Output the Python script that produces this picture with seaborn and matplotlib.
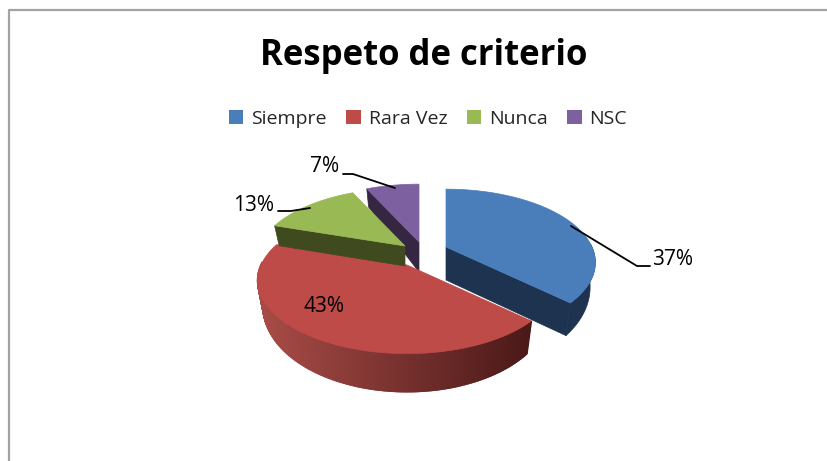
import numpy as np
import matplotlib.pyplot as plt
import matplotlib.colors as mcolors
from matplotlib.patches import Patch
import seaborn as sns

categories = ['Siempre', 'Rara Vez', 'Nunca', 'NSC']
values = [37, 43, 13, 7]
labels = ['37%', '43%', '13%', '7%']

top_colors = ['#4a7ebb', '#be4b48', '#98b954', '#7d60a0']
wall_colors = ['#1e3350', '#a94c47', '#3f4a1f', '#352641']
wall_dark = '#4a1918'

# pie look: perspective ellipse and where each exploded slice sits on the page
RX, RY, PERSP = 146, 70, 0.21
BOTTOM_INSET = 0.965
offsets = [(446, 247), (407, 265), (405, 246), (419, 242)]
apex_depth = [33, 33, 20, 30]

sns.set_theme(style='white')
plt.rcParams['font.family'] = ['Open Sans', 'DejaVu Sans']

fig = plt.figure(figsize=(8.28, 4.61), dpi=100)
ax = fig.add_axes([0, 0, 1, 1])
ax.set_xlim(0, 828)
ax.set_ylim(461, 0)
ax.axis('off')


def rim(angle, off):
    a = np.radians(angle)
    den = 1 + PERSP * np.sin(a)
    return off[0] + RX * np.cos(a) / den, off[1] - RY * np.sin(a) / den


def depth(angle):
    s = np.sin(np.radians(angle))
    return np.where(s < 0, 21 - 17 * s, 21 - 3 * s)


# slice angles, clockwise from 12 o'clock
shares = np.array(values) / sum(values) * 360
ends = 90 - np.cumsum(shares)
starts = ends + shares


def radial_wall(i, angle):
    x, y = rim(angle, offsets[i])
    px, py = offsets[i]
    xb = px + (x - px) * BOTTOM_INSET
    ax.fill([px, x, xb, px], [py, y, y + depth(angle), py + apex_depth[i]],
            color=wall_colors[i], lw=0.5)


def top(i):
    ang = np.linspace(starts[i], ends[i], 120)
    x, y = rim(ang, offsets[i])
    ax.fill(np.r_[offsets[i][0], x], np.r_[offsets[i][1], y],
            color=top_colors[i], lw=0.5)


def outer_wall(i, gradient=False):
    ang = np.linspace(ends[i], starts[i], 300)
    ang = ang[np.sin(np.radians(ang)) < 0.05]
    x, y = rim(ang, offsets[i])
    d = depth(ang)
    xb = offsets[i][0] + (x - offsets[i][0]) * BOTTOM_INSET
    if not gradient:
        ax.fill(np.r_[x, xb[::-1]], np.r_[y, (y + d)[::-1]],
                color=wall_colors[i], lw=0.5)
        return
    c0 = np.array(mcolors.to_rgb(wall_colors[i]))
    c1 = np.array(mcolors.to_rgb(wall_dark))
    for j in range(len(ang) - 1):
        t = (x[j] - x.min()) / (x.max() - x.min())
        col = c0 + (c1 - c0) * t
        ax.fill([x[j], x[j + 1], xb[j + 1], xb[j]],
                [y[j], y[j + 1], y[j + 1] + d[j + 1], y[j] + d[j]],
                color=col, lw=1.2)


# back to front
radial_wall(3, starts[3])
top(3)
outer_wall(1, gradient=True)
top(1)
radial_wall(2, starts[2])
top(2)
radial_wall(0, ends[0])
outer_wall(0)
top(0)

# leaders
ax.plot([571, 637, 650], [226, 266, 266], color='black', lw=1.3)
ax.plot([278, 291, 310], [211, 211, 208], color='black', lw=1.3)
ax.plot([343, 353, 395], [174, 174, 188], color='black', lw=1.3)

label_pos = [(673, 259), (324, 306), (254, 205), (325, 166)]
for txt, (x, y) in zip(labels, label_pos):
    ax.text(x, y, txt, fontsize=15, color='black', ha='center', va='center')

ax.text(424, 56, 'Respeto de criterio', fontsize=25, fontweight='bold',
        color='black', ha='center', va='center')

handles = [Patch(facecolor=c, edgecolor='none') for c in top_colors]
ax.legend(handles, categories, ncol=4, loc='center',
          bbox_to_anchor=(428 / 828, 1 - 119 / 461), frameon=False,
          fontsize=14, handlelength=0.75, handleheight=0.75,
          handletextpad=0.4, columnspacing=1.0)

# chart frame, right and bottom sit off the crop
ax.plot([9, 9, 828], [461, 10, 10], color='#a3a3a3', lw=1.6)

fig.savefig('out.png', dpi=100)
